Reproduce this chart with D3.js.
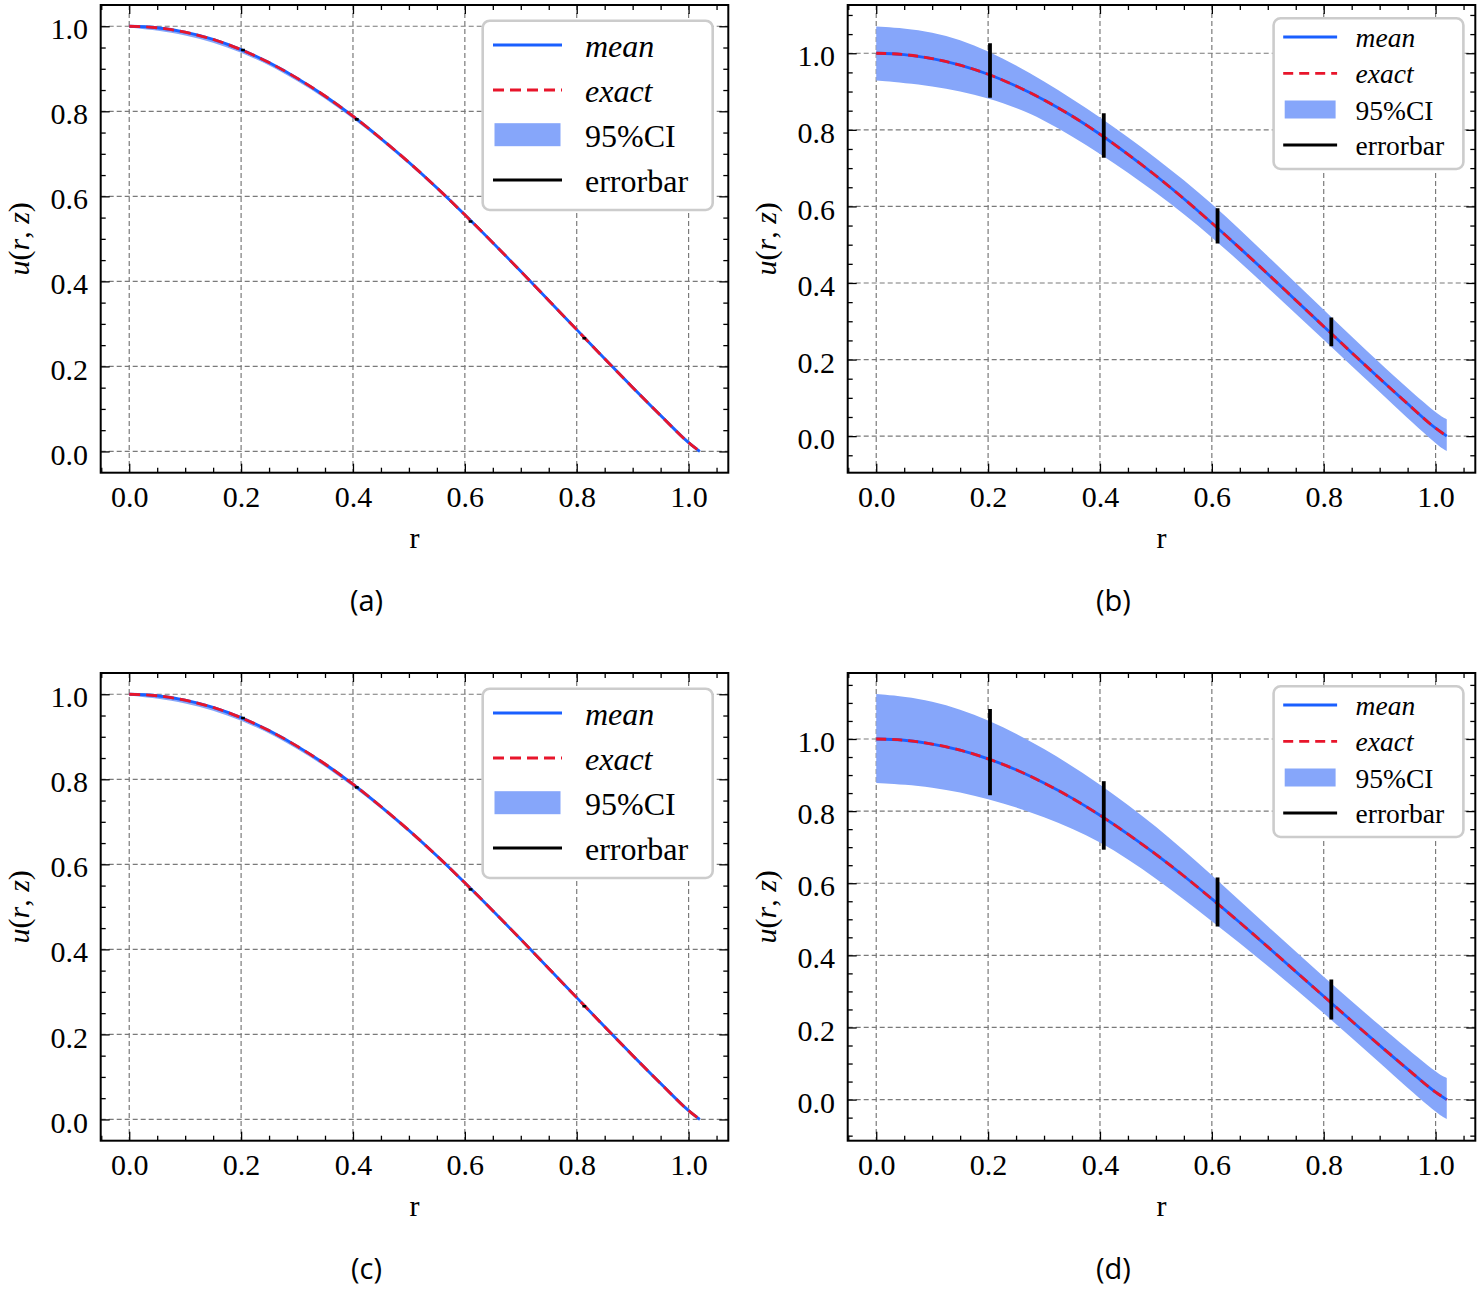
<!DOCTYPE html>
<html>
<head>
<meta charset="utf-8">
<script src="https://cdnjs.cloudflare.com/ajax/libs/d3/7.8.5/d3.min.js"></script>
<style>
  body { margin: 0; background: #fff; }
  svg { display: block; }
</style>
</head>
<body>
<svg id="chart" width="1481" height="1289"></svg>
<script>
// radial positions of the mean / exact curves
const rGrid = [0, 0.05, 0.1, 0.15, 0.2, 0.25, 0.3, 0.35, 0.4, 0.45, 0.5,
  0.55, 0.6, 0.65, 0.7, 0.75, 0.8, 0.85, 0.9, 0.95, 1.0, 1.02];
const meanU = [1.000, 0.9965, 0.986, 0.969, 0.945, 0.9145, 0.878, 0.836, 0.7885, 0.736, 0.680,
  0.620, 0.5565, 0.491, 0.4236, 0.355, 0.2865, 0.218, 0.1505, 0.0845, 0.0207, 0.0];
const exactU = [1.000, 0.9965, 0.986, 0.969, 0.945, 0.9145, 0.878, 0.836, 0.7885, 0.736, 0.680,
  0.620, 0.5565, 0.491, 0.4236, 0.355, 0.2865, 0.218, 0.1505, 0.0845, 0.0207, 0.0];

// 95% CI band, read at coarser r positions
const rBand = [0, 0.1, 0.2, 0.3, 0.4, 0.5, 0.6, 0.7, 0.8, 0.9, 1.0, 1.02];
const ciLowA = [0.997, 0.983, 0.942, 0.875, 0.786, 0.677, 0.554, 0.421, 0.284, 0.148, 0.018, -0.003];
const ciHighA = [1.003, 0.989, 0.948, 0.881, 0.792, 0.683, 0.560, 0.427, 0.290, 0.154, 0.024, 0.003];
const ciLowB = [0.929, 0.916, 0.886, 0.830, 0.738, 0.638, 0.522, 0.388, 0.252, 0.115, -0.021, -0.039];
const ciHighB = [1.070, 1.060, 1.010, 0.928, 0.834, 0.728, 0.610, 0.470, 0.330, 0.190, 0.060, 0.044];
const ciLowD = [0.878, 0.869, 0.836, 0.786, 0.719, 0.615, 0.495, 0.372, 0.240, 0.103, -0.037, -0.054];
const ciHighD = [1.125, 1.110, 1.056, 0.975, 0.876, 0.760, 0.623, 0.480, 0.340, 0.205, 0.075, 0.060];

// error bars
const errR = [0.2034, 0.4068, 0.6102, 0.8136];
const errLowA = [0.941, 0.778, 0.538, 0.263];
const errHighA = [0.947, 0.784, 0.544, 0.269];
const errLowB = [0.884, 0.727, 0.503, 0.235];
const errHighB = [1.026, 0.843, 0.595, 0.310];
const errLowD = [0.844, 0.693, 0.480, 0.222];
const errHighD = [1.083, 0.883, 0.616, 0.333];

const xTicks = [0, 0.2, 0.4, 0.6, 0.8, 1.0];
const yTicks = [0, 0.2, 0.4, 0.6, 0.8, 1.0];
const legendLabels = ['mean', 'exact', '95%CI', 'errorbar'];
const panelLabels = ['(a)', '(b)', '(c)', '(d)'];

const BLUE = '#1a5fff';
const RED = '#e8152b';
const BAND = '#86a6fa';
const SERIF = '"Liberation Serif", "Times New Roman", serif';

const svg = d3.select('#chart');

const panels = [
  {x0: 100.7, x1: 728.3, y0: 5, y1: 472.7, ylim: [-0.05, 1.05], lo: ciLowA, hi: ciHighA,
   eLo: errLowA, eHi: errHighA,
   leg: {box: [482.7, 20.7, 712.7, 210], sx0: 493, sx1: 562, tx: 585, rows: [45, 90, 134.7, 180], ph: 23, font: 32, base: 12, dash: '11,6'}},
  {x0: 847.7, x1: 1475.3, y0: 5, y1: 472.7, ylim: [-0.0955, 1.126], lo: ciLowB, hi: ciHighB,
   eLo: errLowB, eHi: errHighB,
   leg: {box: [1273.6, 18.3, 1463.4, 169], sx0: 1283.2, sx1: 1337.1, tx: 1355.6, rows: [37, 73.3, 109.5, 145], ph: 18, font: 27.5, base: 10, dash: '10,6'}},
  {x0: 100.7, x1: 728.3, y0: 673, y1: 1140.7, ylim: [-0.05, 1.05], lo: ciLowA, hi: ciHighA,
   eLo: errLowA, eHi: errHighA,
   leg: {box: [482.7, 688.7, 712.7, 878], sx0: 493, sx1: 562, tx: 585, rows: [713, 758, 802.7, 848], ph: 23, font: 32, base: 12, dash: '11,6'}},
  {x0: 847.7, x1: 1475.3, y0: 673, y1: 1140.7, ylim: [-0.114, 1.183], lo: ciLowD, hi: ciHighD,
   eLo: errLowD, eHi: errHighD,
   leg: {box: [1273.6, 686.3, 1463.4, 837], sx0: 1283.2, sx1: 1337.1, tx: 1355.6, rows: [705, 741.3, 777.5, 813], ph: 18, font: 27.5, base: 10, dash: '10,6'}}
];

function drawPanel(p, idx) {
  const x = d3.scaleLinear().domain([-0.051, 1.071]).range([p.x0, p.x1]);
  const y = d3.scaleLinear().domain(p.ylim).range([p.y1, p.y0]);
  const g = svg.append('g');

  const clipId = 'clip' + idx;
  svg.append('clipPath').attr('id', clipId)
    .append('rect')
    .attr('x', p.x0).attr('y', p.y0)
    .attr('width', p.x1 - p.x0).attr('height', p.y1 - p.y0);
  const plot = g.append('g').attr('clip-path', `url(#${clipId})`);

  // dashed grid at major ticks
  plot.selectAll('.gx').data(xTicks).join('line')
    .attr('x1', d => x(d)).attr('x2', d => x(d))
    .attr('y1', p.y0).attr('y2', p.y1);
  plot.selectAll('.gy').data(yTicks).join('line')
    .attr('x1', p.x0).attr('x2', p.x1)
    .attr('y1', d => y(d)).attr('y2', d => y(d));
  plot.selectAll('line')
    .attr('stroke', '#7a7a7a').attr('stroke-width', 1.2)
    .attr('stroke-dasharray', '5,3');

  // confidence band (smoothed between the read-off points)
  const band = d3.area()
    .x((d, i) => x(rBand[i]))
    .y0(d => y(d[0]))
    .y1(d => y(d[1]))
    .curve(d3.curveBasis);
  plot.append('path')
    .datum(p.lo.map((v, i) => [v, p.hi[i]]))
    .attr('d', band)
    .attr('fill', BAND);

  const line = d3.line()
    .x((d, i) => x(rGrid[i]))
    .y(d => y(d))
    .curve(d3.curveMonotoneX);
  plot.append('path').datum(meanU).attr('d', line)
    .attr('fill', 'none').attr('stroke', BLUE).attr('stroke-width', 2.8);
  plot.append('path').datum(exactU).attr('d', line)
    .attr('fill', 'none').attr('stroke', RED).attr('stroke-width', 2.8)
    .attr('stroke-dasharray', p.leg.dash);

  // error bars
  plot.selectAll('.err').data(errR).join('line')
    .attr('class', 'err')
    .attr('x1', d => x(d)).attr('x2', d => x(d))
    .attr('y1', (d, i) => y(p.eLo[i])).attr('y2', (d, i) => y(p.eHi[i]))
    .attr('stroke', '#000').attr('stroke-width', 3.8);

  // axes with inward ticks on every side
  const fmt = d3.format('.1f');
  const xMinor = d3.range(-0.05, 1.0751, 0.05).filter(v => Math.abs(v * 5 - Math.round(v * 5)) > 1e-6);
  const yMinor = d3.range(Math.ceil(p.ylim[0] / 0.05) * 0.05, p.ylim[1], 0.05)
    .filter(v => Math.abs(v * 5 - Math.round(v * 5)) > 1e-6 && v > p.ylim[0] && v < p.ylim[1]);

  const styleAxis = sel => {
    sel.attr('font-family', SERIF);
    sel.select('.domain').remove();
    sel.selectAll('.tick line').attr('stroke', '#000').attr('stroke-width', 1.3);
    sel.selectAll('text').attr('font-family', SERIF).attr('font-size', 30).attr('fill', '#000');
  };

  g.append('g').attr('transform', `translate(0,${p.y1})`)
    .call(d3.axisBottom(x).tickValues(xTicks).tickFormat(fmt).tickSize(-9).tickPadding(13))
    .call(styleAxis);
  g.append('g').attr('transform', `translate(0,${p.y1})`)
    .call(d3.axisBottom(x).tickValues(xMinor).tickFormat('').tickSize(-5))
    .call(styleAxis);
  g.append('g').attr('transform', `translate(0,${p.y0})`)
    .call(d3.axisTop(x).tickValues(xTicks).tickFormat('').tickSize(-9))
    .call(styleAxis);
  g.append('g').attr('transform', `translate(0,${p.y0})`)
    .call(d3.axisTop(x).tickValues(xMinor).tickFormat('').tickSize(-5))
    .call(styleAxis);

  const yl = g.append('g').attr('transform', `translate(${p.x0},0)`)
    .call(d3.axisLeft(y).tickValues(yTicks).tickFormat(fmt).tickSize(-9).tickPadding(12.7))
    .call(styleAxis);
  yl.selectAll('text').attr('dy', '0.42em');
  g.append('g').attr('transform', `translate(${p.x0},0)`)
    .call(d3.axisLeft(y).tickValues(yMinor).tickFormat('').tickSize(-5))
    .call(styleAxis);
  g.append('g').attr('transform', `translate(${p.x1},0)`)
    .call(d3.axisRight(y).tickValues(yTicks).tickFormat('').tickSize(-9))
    .call(styleAxis);
  g.append('g').attr('transform', `translate(${p.x1},0)`)
    .call(d3.axisRight(y).tickValues(yMinor).tickFormat('').tickSize(-5))
    .call(styleAxis);

  g.append('rect')
    .attr('x', p.x0).attr('y', p.y0)
    .attr('width', p.x1 - p.x0).attr('height', p.y1 - p.y0)
    .attr('fill', 'none').attr('stroke', '#000').attr('stroke-width', 2);

  // axis titles
  const cx = (p.x0 + p.x1) / 2;
  const cy = (p.y0 + p.y1) / 2;
  g.append('text')
    .attr('x', cx).attr('y', p.y1 + 75)
    .attr('text-anchor', 'middle')
    .attr('font-family', SERIF).attr('font-size', 30)
    .text('r');
  const yt = g.append('text')
    .attr('transform', `translate(${p.x0 - 72},${cy}) rotate(-90)`)
    .attr('text-anchor', 'middle')
    .attr('font-family', SERIF).attr('font-size', 30);
  yt.append('tspan').attr('font-style', 'italic').text('u');
  yt.append('tspan').text('(');
  yt.append('tspan').attr('font-style', 'italic').text('r');
  yt.append('tspan').text(', ');
  yt.append('tspan').attr('font-style', 'italic').text('z');
  yt.append('tspan').text(')');

  // sub-figure label
  g.append('text')
    .attr('x', cx - 48).attr('y', p.y1 + 138)
    .attr('text-anchor', 'middle')
    .attr('font-family', '"Open Sans", "Noto Sans", sans-serif').attr('font-size', 29)
    .text(panelLabels[idx]);

  // legend
  const L = p.leg;
  const lg = g.append('g');
  lg.append('rect')
    .attr('x', L.box[0]).attr('y', L.box[1])
    .attr('width', L.box[2] - L.box[0]).attr('height', L.box[3] - L.box[1])
    .attr('rx', 7)
    .attr('fill', '#fff').attr('stroke', '#cccccc').attr('stroke-width', 2.6);
  lg.append('line')
    .attr('x1', L.sx0).attr('x2', L.sx1).attr('y1', L.rows[0]).attr('y2', L.rows[0])
    .attr('stroke', BLUE).attr('stroke-width', 2.8);
  lg.append('line')
    .attr('x1', L.sx0).attr('x2', L.sx1).attr('y1', L.rows[1]).attr('y2', L.rows[1])
    .attr('stroke', RED).attr('stroke-width', 2.8).attr('stroke-dasharray', L.dash);
  lg.append('rect')
    .attr('x', L.sx0 + 1.5).attr('y', L.rows[2] - L.ph / 2)
    .attr('width', L.sx1 - L.sx0 - 3).attr('height', L.ph)
    .attr('fill', BAND);
  lg.append('line')
    .attr('x1', L.sx0).attr('x2', L.sx1).attr('y1', L.rows[3]).attr('y2', L.rows[3])
    .attr('stroke', '#000').attr('stroke-width', 3);
  lg.selectAll('.lt').data(legendLabels).join('text')
    .attr('x', L.tx)
    .attr('y', (d, i) => L.rows[i] + L.base)
    .attr('font-family', SERIF).attr('font-size', L.font)
    .attr('font-style', (d, i) => i < 2 ? 'italic' : 'normal')
    .text(d => d);
}

panels.forEach(drawPanel);
</script>
</body>
</html>
